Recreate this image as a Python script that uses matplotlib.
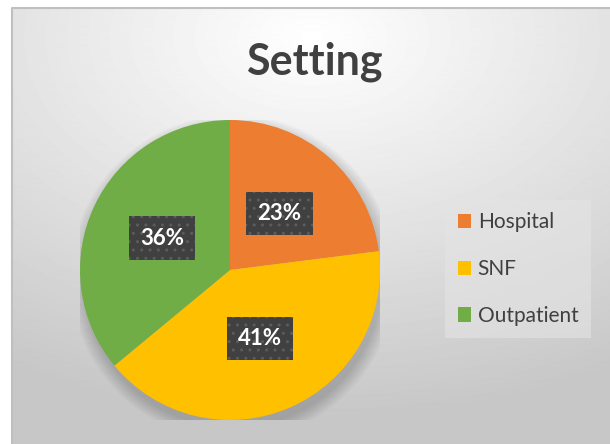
import numpy as np
import matplotlib.pyplot as plt
from matplotlib.patches import Circle, Patch

plt.rcParams['font.family'] = ['Lato', 'DejaVu Sans']

labels = ['Hospital', 'SNF', 'Outpatient']
shares = [23, 41, 36]
colors = ['#ED7D31', '#FFC000', '#70AD47']
text_gray = '#404040'

W, H = 610, 444
fig = plt.figure(figsize=(W / 100, H / 100), dpi=100)
fig.patch.set_facecolor('white')

# chart area background: soft radial gradient, light at top centre
bg = fig.add_axes([12 / W, 0, (W - 12) / W, (H - 8) / H])
yy, xx = np.mgrid[0:436, 0:598]
d = np.hypot((xx - 300) / 600.0, (yy - 30) / 380.0)
shade = np.clip(1.0 - 0.22 * d, 0.78, 1.0)
bg.imshow(shade, cmap='gray', vmin=0, vmax=1, aspect='auto',
          extent=[0, 1, 0, 1], origin='upper')
bg.plot([0, 0, 1], [0, 1, 1], color='#bfbfbf', lw=1.5, transform=bg.transAxes,
        clip_on=False)
bg.set_xlim(0, 1)
bg.set_ylim(0, 1)
bg.axis('off')

# pie
cx, cy, r = 230, 270, 150
ax = fig.add_axes([(cx - r) / W, (H - cy - r) / H, 2 * r / W, 2 * r / H])
for k in range(8):
    ax.add_patch(Circle((0.02, -0.05), 1.0 + 0.012 * k, color='black',
                        alpha=0.025, lw=0, zorder=0))
wedges, _, autotexts = ax.pie(shares, colors=colors, startangle=90,
                              counterclock=False, autopct='%1.0f%%',
                              pctdistance=0.5,
                              wedgeprops=dict(linewidth=0))
for t in autotexts:
    t.set_color('white')
    t.set_fontsize(16)
    t.set_fontweight('bold')
    t.set_bbox(dict(boxstyle='square,pad=0.5', facecolor='#404040',
                    edgecolor='#5c5c5c', linewidth=0, hatch='..'))
ax.set_xlim(-1, 1)
ax.set_ylim(-1, 1)
ax.set_aspect('equal')
ax.axis('off')

fig.text(314 / W, 1 - 62 / H, 'Setting', ha='center', va='center',
         fontsize=31, fontweight='bold', color=text_gray)

handles = [Patch(facecolor=c, edgecolor='none') for c in colors]
leg = fig.legend(handles, labels, loc='center left',
                 bbox_to_anchor=(445 / W, 1 - 269 / H),
                 fontsize=15, frameon=True, fancybox=False,
                 handlelength=0.67, handleheight=0.67, handletextpad=0.3,
                 labelspacing=1.29, borderpad=0.6, borderaxespad=0,
                 labelcolor=text_gray)
frame = leg.get_frame()
frame.set_facecolor('#e4e4e4')
frame.set_alpha(0.6)
frame.set_edgecolor('none')

fig.savefig('out.png', dpi=100)
